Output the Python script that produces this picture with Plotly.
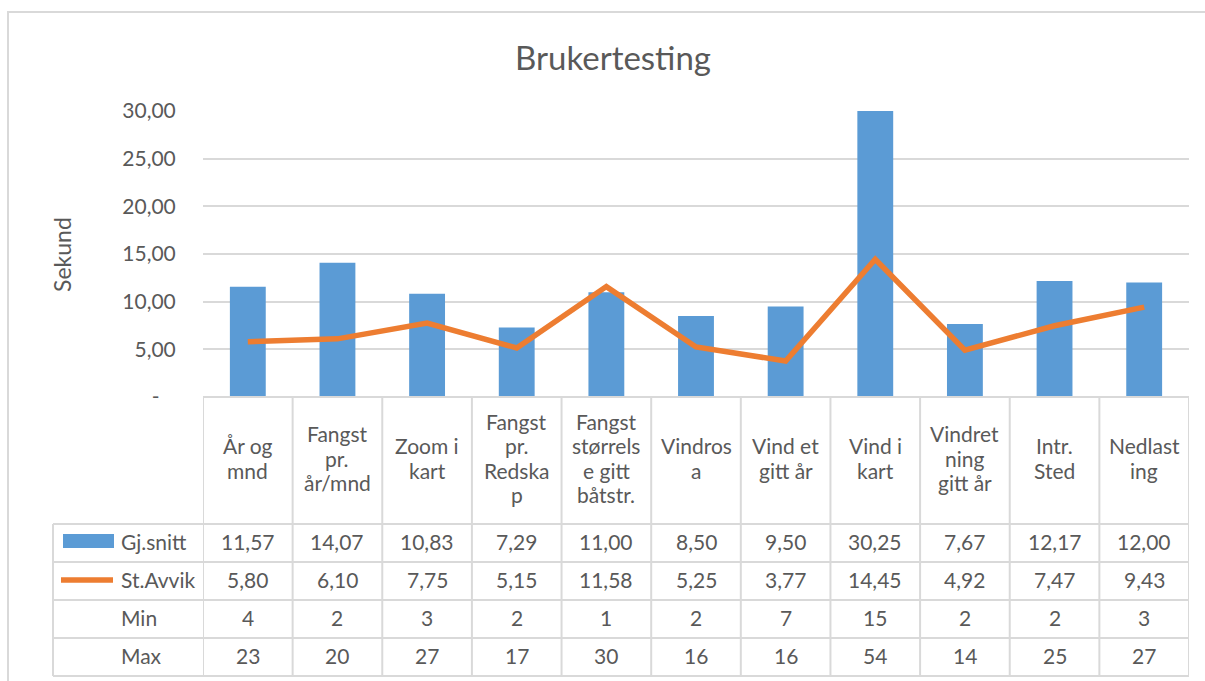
import plotly.graph_objects as go

# --- data -----------------------------------------------------------------
categories = ["År og mnd", "Fangst pr. år/mnd", "Zoom i kart", "Fangst pr. Redskap",
              "Fangst størrelse gitt båtstr.", "Vindrosa", "Vind et gitt år",
              "Vind i kart", "Vindretning gitt år", "Intr. Sted", "Nedlasting"]
category_labels = [["År og", "mnd"], ["Fangst", "pr.", "år/mnd"], ["Zoom i", "kart"],
                   ["Fangst", "pr.", "Redska", "p"], ["Fangst", "størrels", "e gitt", "båtstr."],
                   ["Vindros", "a"], ["Vind et", "gitt år"], ["Vind i", "kart"],
                   ["Vindret", "ning", "gitt år"], ["Intr.", "Sted"], ["Nedlast", "ing"]]
gj_snitt = [11.57, 14.07, 10.83, 7.29, 11.00, 8.50, 9.50, 30.25, 7.67, 12.17, 12.00]
st_avvik = [5.80, 6.10, 7.75, 5.15, 11.58, 5.25, 3.77, 14.45, 4.92, 7.47, 9.43]
min_vals = [4, 2, 3, 2, 1, 2, 7, 15, 2, 2, 3]
max_vals = [23, 20, 27, 17, 30, 16, 16, 54, 14, 25, 27]
y_ticks = [0, 5, 10, 15, 20, 25, 30]
y_tick_text = ["-\u00a0\u00a0\u00a0", "5,00", "10,00", "15,00", "20,00", "25,00", "30,00"]

# --- layout geometry (pixels) ---------------------------------------------
W, H = 1205, 681
L, R, T, B = 203, 1189, 111, 397          # plot area edges
TABLE_LEFT = 53
ROW_EDGES = [397, 524, 562, 600, 638, 676]  # header row + 4 data rows
HDR_CENTER = 458
HDR_LINE = 24.5
FONT = "Lato, Calibri, sans-serif"
GRAY = "#595959"
LINE = "#d9d9d9"
BLUE = "#5B9BD5"
ORANGE = "#ED7D31"
FS = 21


def px(xp):
    return (xp - L) / (R - L)


def py(yp):
    return (B - yp) / (B - T)


def comma(v, d=2):
    return f"{v:.{d}f}".replace(".", ",")


idx = list(range(len(categories)))

fig = go.Figure()
fig.add_trace(go.Bar(x=idx, y=gj_snitt, name="Gj.snitt", marker_color=BLUE,
                     marker_line_width=0, width=0.4))
fig.add_trace(go.Scatter(x=idx, y=st_avvik, name="St.Avvik", mode="lines",
                         line=dict(color=ORANGE, width=5.5)))

shapes = []
annotations = []

# outer chart frame
shapes.append(dict(type="rect", xref="paper", yref="paper",
                   x0=px(8), x1=px(1230), y0=py(12), y1=py(700),
                   line=dict(color=LINE, width=2), layer="below"))

# table: horizontal rules
shapes.append(dict(type="line", xref="paper", yref="paper", x0=px(L), x1=px(R),
                   y0=py(ROW_EDGES[0]), y1=py(ROW_EDGES[0]), line=dict(color=LINE, width=2)))
for yp in ROW_EDGES[1:]:
    shapes.append(dict(type="line", xref="paper", yref="paper", x0=px(TABLE_LEFT), x1=px(R),
                       y0=py(yp), y1=py(yp), line=dict(color=LINE, width=2)))
# table: vertical rules
for k in range(len(categories) + 1):
    shapes.append(dict(type="line", xref="x", yref="paper", x0=k - 0.5, x1=k - 0.5,
                       y0=py(ROW_EDGES[0]), y1=py(ROW_EDGES[-1]), line=dict(color=LINE, width=2)))
shapes.append(dict(type="line", xref="paper", yref="paper", x0=px(TABLE_LEFT), x1=px(TABLE_LEFT),
                   y0=py(ROW_EDGES[1]), y1=py(ROW_EDGES[-1]), line=dict(color=LINE, width=2)))

# legend keys in the row headers
shapes.append(dict(type="rect", xref="paper", yref="paper", x0=px(63), x1=px(114),
                   y0=py(548), y1=py(534), fillcolor=BLUE, line=dict(width=0)))
shapes.append(dict(type="line", xref="paper", yref="paper", x0=px(61), x1=px(113),
                   y0=py(580), y1=py(580), line=dict(color=ORANGE, width=5.5)))

# header row: category names, one annotation per wrapped line
for i, lines in zip(idx, category_labels):
    n = len(lines)
    for j, txt in enumerate(lines):
        yc = HDR_CENTER + (j - (n - 1) / 2) * HDR_LINE
        annotations.append(dict(x=i, y=py(yc), xref="x", yref="paper", text=txt,
                                showarrow=False, xanchor="center", yanchor="middle",
                                font=dict(family=FONT, size=FS, color=GRAY)))

rows = [("Gj.snitt", [comma(v) for v in gj_snitt]),
        ("St.Avvik", [comma(v) for v in st_avvik]),
        ("Min", [str(v) for v in min_vals]),
        ("Max", [str(v) for v in max_vals])]
for r, (name, vals) in enumerate(rows):
    mid = py((ROW_EDGES[r + 1] + ROW_EDGES[r + 2]) / 2 - 1.5)
    annotations.append(dict(x=px(119), y=mid, xref="paper", yref="paper", text=name,
                            showarrow=False, xanchor="left", yanchor="middle",
                            font=dict(family=FONT, size=FS, color=GRAY)))
    for i, v in zip(idx, vals):
        annotations.append(dict(x=i, y=mid, xref="x", yref="paper", text=v,
                                showarrow=False, yanchor="middle",
                                font=dict(family=FONT, size=FS, color=GRAY)))

# axis title
annotations.append(dict(x=px(62), y=py(255), xref="paper", yref="paper", text="Sekund",
                        textangle=-90, showarrow=False, xanchor="center", yanchor="middle",
                        font=dict(family=FONT, size=23, color=GRAY)))
# chart title
annotations.append(dict(x=px(613), y=py(57), xref="paper", yref="paper", text="Brukertesting",
                        showarrow=False, xanchor="center", yanchor="middle",
                        font=dict(family=FONT, size=33, color=GRAY)))

fig.update_layout(
    width=W, height=H,
    margin=dict(l=L, r=W - R, t=T, b=H - B, pad=0),
    paper_bgcolor="white", plot_bgcolor="white",
    showlegend=False,
    shapes=shapes, annotations=annotations,
    font=dict(family=FONT, size=FS, color=GRAY),
    xaxis=dict(range=[-0.5, len(categories) - 0.5], showticklabels=False, showgrid=False,
               zeroline=False, showline=False, fixedrange=True),
    yaxis=dict(range=[0, 30], tickvals=y_ticks, ticktext=y_tick_text, showgrid=True,
               gridcolor=LINE, gridwidth=2, zeroline=False, showline=False,
               ticks="outside", ticklen=22, tickcolor="rgba(0,0,0,0)",
               tickfont=dict(family=FONT, size=FS, color=GRAY)),
)

fig.write_html("out.html")
